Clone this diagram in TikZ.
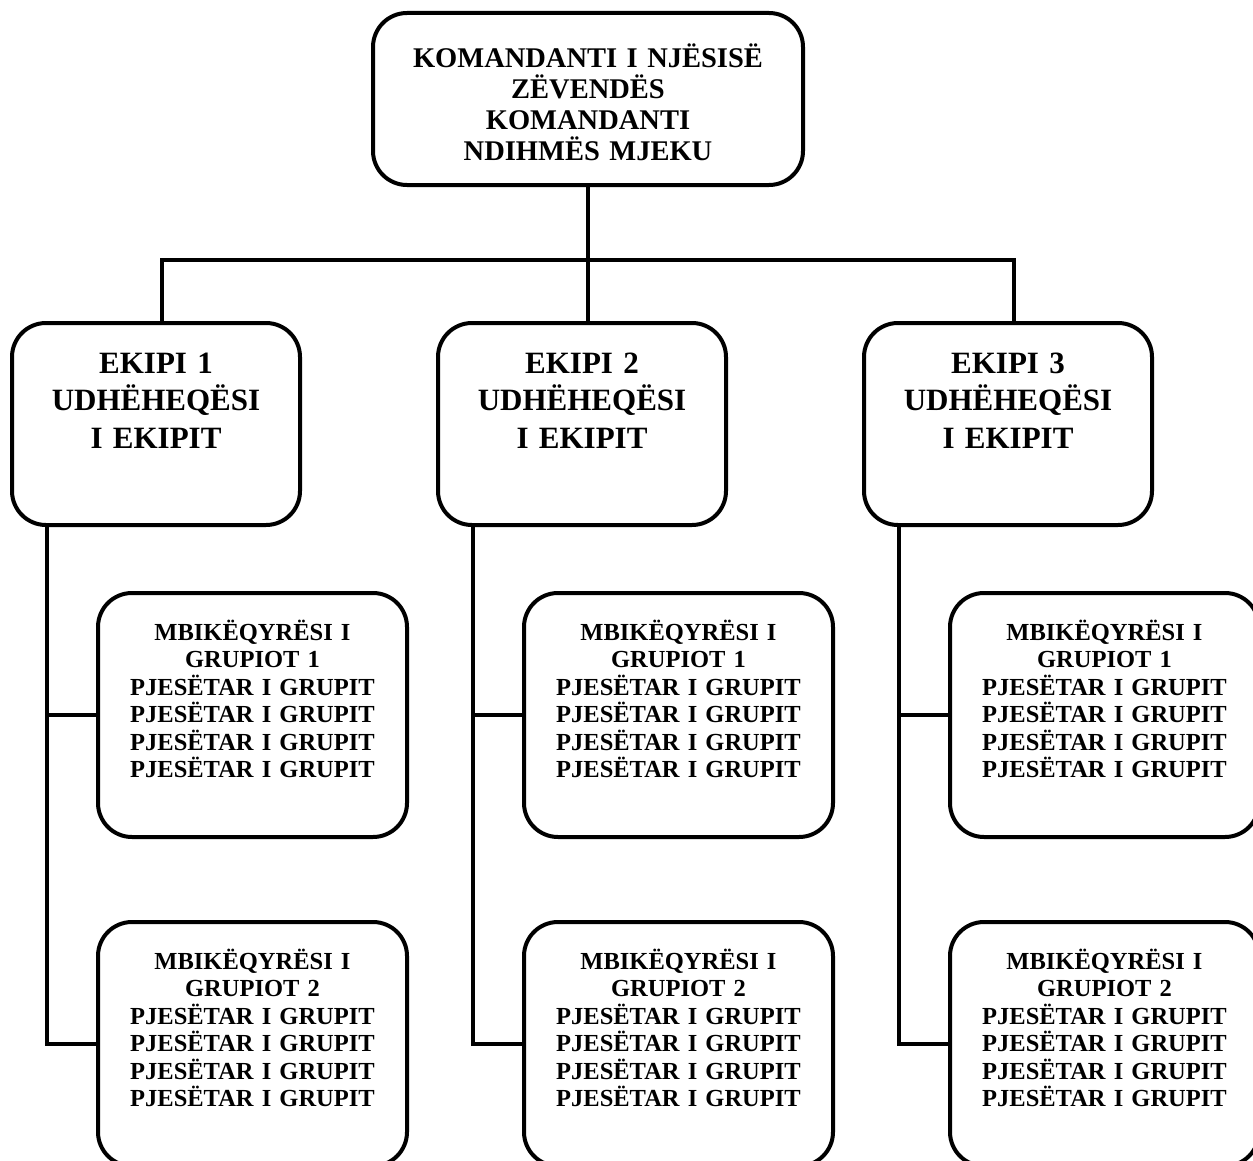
\documentclass[tikz,border=0pt]{standalone}
\usepackage{fontspec}
\setmainfont{Liberation Serif}
\usepackage{tikz}
\usetikzlibrary{positioning}
\newcommand{\komanda}{KOMANDANTI I NJËSISË\\ZËVENDËS\\KOMANDANTI\\NDIHMËS MJEKU}
\newcommand{\ekipi}[1]{EKIPI #1\\UDHËHEQËSI\\I EKIPIT}
\newcommand{\pjesetar}{PJESËTAR I GRUPIT}
\newcommand{\grupi}[1]{MBIKËQYRËSI I\\GRUPIOT #1\\\pjesetar\\\pjesetar\\\pjesetar\\\pjesetar}

\begin{document}
\begin{tikzpicture}[x=0.5pt,y=-0.5pt,
    box/.style={draw, line width=2pt, rounded corners=17pt, align=center, inner sep=0pt},
    topbox/.style={box, text width=215pt, text height=27.5pt, text depth=58.5pt,
                   font=\bfseries\fontsize{14.25}{15.5}\selectfont},
    ekipibox/.style={box, text width=144pt, text height=25pt, text depth=76pt,
                     font=\bfseries\fontsize{15.5}{18.75}\selectfont},
    grupbox/.style={box, text width=154.5pt, text height=23.5pt, text depth=98.5pt,
                    font=\bfseries\fontsize{12.25}{13.75}\selectfont},
    link/.style={line width=2pt}]
  \useasboundingbox (0,0) rectangle (1253,1161);

  \node[topbox] (top) at (588,99) {\komanda};

  \node[ekipibox] (e1) at (156,424) {\ekipi{1}};
  \node[ekipibox] (e2) at (582,424) {\ekipi{2}};
  \node[ekipibox] (e3) at (1008,424) {\ekipi{3}};

  \node[grupbox] (g11) at (252.5,715) {\grupi{1}};
  \node[grupbox] (g12) at (252.5,1044) {\grupi{2}};
  \node[grupbox] (g21) at (678.5,715) {\grupi{1}};
  \node[grupbox] (g22) at (678.5,1044) {\grupi{2}};
  \node[grupbox] (g31) at (1104.5,715) {\grupi{1}};
  \node[grupbox] (g32) at (1104.5,1044) {\grupi{2}};

  % komanda -> ekipet
  \draw[link] (top.south) -- ++(0,73) coordinate (bar);
  \draw[link] ([xshift=3pt]e1.north) |- (bar) -| ([xshift=3pt]e3.north);
  \draw[link] (bar) -- ([xshift=3pt]e2.north);

  % ekipet -> grupet
  \draw[link] ([xshift=18.5pt]e1.south west) |- (g11.west);
  \draw[link] ([xshift=18.5pt]e1.south west) |- (g12.west);
  \draw[link] ([xshift=18.5pt]e2.south west) |- (g21.west);
  \draw[link] ([xshift=18.5pt]e2.south west) |- (g22.west);
  \draw[link] ([xshift=18.5pt]e3.south west) |- (g31.west);
  \draw[link] ([xshift=18.5pt]e3.south west) |- (g32.west);
\end{tikzpicture}
\end{document}
